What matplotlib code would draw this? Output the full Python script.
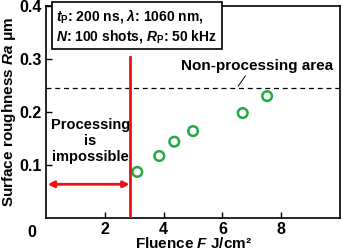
import matplotlib
matplotlib.use("Agg")
import matplotlib.pyplot as plt

plt.rcParams['font.family'] = ['Liberation Sans', 'DejaVu Sans']
plt.rcParams['font.weight'] = 'bold'
plt.rcParams['mathtext.fontset'] = 'custom'
plt.rcParams['mathtext.it'] = 'Liberation Sans:italic:bold'
plt.rcParams['mathtext.rm'] = 'Liberation Sans:bold'
plt.rcParams['mathtext.bf'] = 'Liberation Sans:bold'

# data
fluence = [3.1, 3.85, 4.36, 5.0, 6.69, 7.52]
roughness = [0.087, 0.117, 0.144, 0.164, 0.198, 0.230]
non_processing_ra = 0.246
threshold_fluence = 2.86
x_ticks = [2, 4, 6, 8]
y_ticks = [0.1, 0.2, 0.3, 0.4]

fig = plt.figure(figsize=(3.42, 2.5), dpi=100)
ax = fig.add_axes([0.135, 0.128, 0.859, 0.848])

ax.scatter(fluence, roughness, s=48, facecolors='none', edgecolors='#22aa44',
           linewidths=1.8, zorder=3)
ax.axhline(non_processing_ra, color='black', linestyle=(0, (4, 3)), linewidth=0.9)
ax.plot([threshold_fluence, threshold_fluence], [0, 0.304], color='#ee1111',
        linewidth=2, zorder=4)
ax.annotate('', xy=(0.05, 0.0636), xytext=(threshold_fluence - 0.02, 0.0636),
            arrowprops=dict(arrowstyle='<|-|>', color='#ee1111', lw=2,
                            mutation_scale=9, shrinkA=0, shrinkB=0))

ax.text(1.5, 0.145, 'Processing\nis\nimpossible', ha='center', va='center',
        fontsize=10.5, fontweight='bold', linespacing=1.15)
ax.text(7.18, 0.286, 'Non-processing area', ha='center', va='center',
        fontsize=11, fontweight='bold')
ax.plot([6.54, 6.78], [0.249, 0.268], color='black', linewidth=0.7)

ax.text(0.35, 0.363, '$t_\\mathrm{P}$: 200 ns, $\\lambda$: 1060 nm,\n'
        '$N$: 100 shots, $R_\\mathrm{P}$: 50 kHz',
        ha='left', va='center', fontsize=10, fontweight='bold', linespacing=1.25,
        bbox=dict(boxstyle='square,pad=0.3', facecolor='white',
                  edgecolor='black', linewidth=1.2))

ax.set_xlim(0, 10)
ax.set_ylim(0, 0.4)
ax.set_xticks(x_ticks)
ax.set_yticks(y_ticks)
ax.set_xticklabels([str(t) for t in x_ticks])
ax.set_yticklabels([f'{t:.1f}' for t in y_ticks])
ax.tick_params(direction='in', labelsize=11.5, length=4, width=1, pad=3)
for lbl in ax.get_xticklabels() + ax.get_yticklabels():
    lbl.set_fontweight('bold')
ax.text(-0.35, -0.014, '0', ha='right', va='top', fontsize=11.5, fontweight='bold')
for sp in ax.spines.values():
    sp.set_linewidth(1.2)

ax.set_xlabel('Fluence $F$ J/cm²', fontsize=11, fontweight='bold', labelpad=-1)
ax.set_ylabel('Surface roughness $Ra$ μm', fontsize=11, fontweight='bold', labelpad=1)

fig.savefig('out.png', dpi=100)
